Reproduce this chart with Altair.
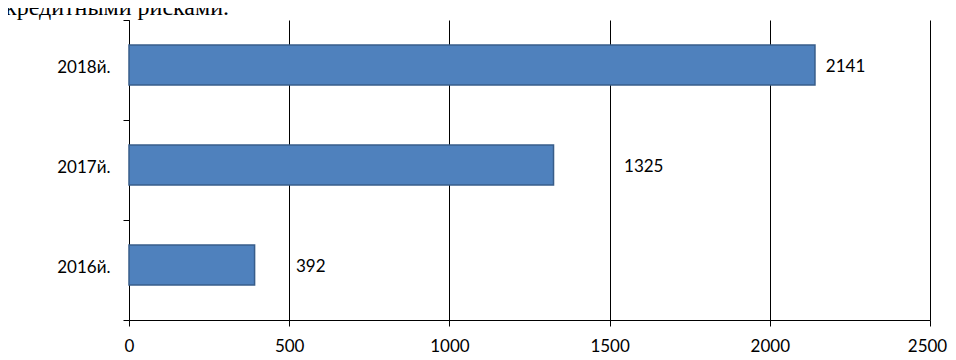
import altair as alt
import pandas as pd

years = ["2018й.", "2017й.", "2016й."]
values = [2141, 1325, 392]
label_at = [2175, 1545, 521]  # where each value label starts, in data units
heading = ["кредитными рисками."]

df = pd.DataFrame({"year": years, "value": values, "label_at": label_at,
                   "label": [str(v) for v in values]})
head_df = pd.DataFrame({"text": heading})

font = "Lato"

y_enc = alt.Y("year:N", sort=years, title=None,
              scale=alt.Scale(paddingInner=0, paddingOuter=0),
              axis=alt.Axis(domainColor="black", tickColor="black", tickSize=6,
                            tickBand="extent", labelFont=font, labelFontSize=17,
                            labelColor="black", labelPadding=13, grid=False,
                            labelOffset=-3))

bars = alt.Chart(df).mark_bar(color="#4F81BD", stroke="#385D8A", strokeWidth=1.5,
                              height=alt.RelativeBandSize(0.4), yOffset=-5).encode(
    x=alt.X("value:Q", title=None,
            scale=alt.Scale(domain=[0, 2500], nice=False),
            axis=alt.Axis(values=[0, 500, 1000, 1500, 2000, 2500], grid=True,
                          format="d",
                          gridColor="black", gridOpacity=1, gridWidth=1,
                          domainColor="black", tickColor="black", tickSize=6,
                          labelFont=font, labelFontSize=17, labelColor="black",
                          labelPadding=12, labelFlush=False,
                          labelOffset={"condition": {"test": "datum.value == 2500", "value": -3},
                                       "value": 0})),
    y=y_enc,
)

labels = alt.Chart(df).mark_text(align="left", baseline="middle", font=font,
                                 fontSize=17, color="black", dy=-3).encode(
    x=alt.X("label_at:Q"),
    y=alt.Y("year:N", sort=years),
    text="label:N",
)

head = alt.Chart(head_df).mark_text(align="left", baseline="alphabetic",
                                    font="Liberation Serif", fontSize=24,
                                    color="black").encode(
    x=alt.value(-124),
    y=alt.value(-5),
    text="text:N",
)

chart = alt.layer(bars, labels, head).properties(
    width=801, height=300,
    padding={"left": 121, "top": 12, "right": 18, "bottom": 38},
    autosize=alt.AutoSizeParams(type="none"),
).configure_view(stroke=None)

chart.save("out.html", embed_options={"renderer": "svg", "actions": False})
